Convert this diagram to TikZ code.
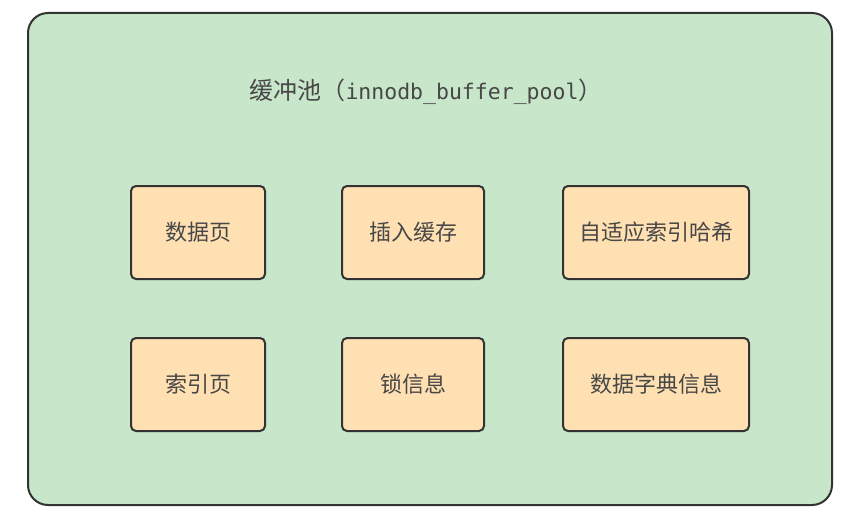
\documentclass[tikz,border=0pt]{standalone}
\usepackage{fontspec}
\newfontfamily\cjk{Noto Sans CJK SC}
\newfontfamily\mono{DejaVu Sans Mono}
\usepackage{tikz}
\usetikzlibrary{positioning}
\definecolor{poolbg}{HTML}{C8E6C9}
\definecolor{itembg}{HTML}{FFE0B2}
\definecolor{edge}{HTML}{333333}
\definecolor{ink}{HTML}{474747}
\tikzset{
  itembox/.style={draw=edge, fill=itembg, line width=2pt, rounded corners=5pt, minimum height=93pt, inner sep=0pt, outer sep=0pt, align=center, text=ink, font=\cjk\fontsize{22}{26}\selectfont},
}
\begin{document}
\begin{tikzpicture}[x=1pt, y=-1pt]
      \useasboundingbox (0,0) rectangle (854,511);
      % Pool
      \node[draw=edge, fill=poolbg, line width=2pt, rounded corners=20pt, minimum width=804pt, minimum height=492pt] (pool) at (430,259) {};
      \node[text=ink, font=\cjk\fontsize{24}{28}\selectfont] (title) at (426,92) {缓冲池（{\mono\fontsize{21.5}{28}\selectfont innodb\_buffer\_pool}）};
      % Items
      \node[itembox, minimum width=134pt] (datapg) at (198,232.5) {数据页};
      \node[itembox, minimum width=142pt, right=77pt of datapg] (insbuf) {插入缓存};
      \node[itembox, minimum width=186pt, right=79pt of insbuf] (ahash) {自适应索引哈希};
      \node[itembox, minimum width=134pt, below=59pt of datapg] (idxpg) {索引页};
      \node[itembox, minimum width=142pt, below=59pt of insbuf] (lockinfo) {锁信息};
      \node[itembox, minimum width=186pt, below=59pt of ahash] (dictinfo) {数据字典信息};
    \end{tikzpicture}
\end{document}
